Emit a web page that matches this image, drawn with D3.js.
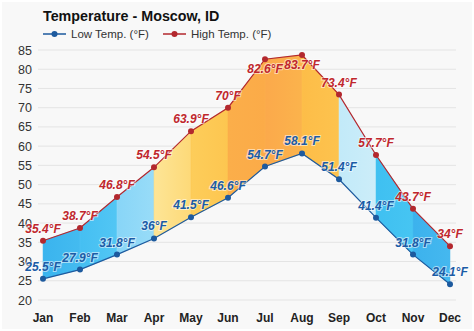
<!DOCTYPE html>
<html><head><meta charset="utf-8">
<script src="https://cdn.jsdelivr.net/npm/d3@7"></script>
<style>html,body{margin:0;padding:0;background:#fff;}svg{display:block;}</style>
</head><body>
<script>
const months = ["Jan","Feb","Mar","Apr","May","Jun","Jul","Aug","Sep","Oct","Nov","Dec"];
const lowTemps = [25.5, 27.9, 31.8, 36, 41.5, 46.6, 54.7, 58.1, 51.4, 41.4, 31.8, 24.1];
const highTemps = [35.4, 38.7, 46.8, 54.5, 63.9, 70, 82.6, 83.7, 73.4, 57.7, 43.7, 34];
const yTicks = [20,25,30,35,40,45,50,55,60,65,70,75,80,85];
const segLeft  = ["#3ab4ee","#45bff2","#88d5f7","#fde596","#fdcd5a","#fbae4a","#fba94b","#fdbd48","#c2eaf9","#3fc0f1","#3cb2ed"];
const segRight = ["#44bbf0","#52c6f4","#98dcf8","#fdd978","#fdc650","#fbab48","#fbb34c","#fdc34e","#ccedf9","#46c5f2","#45b8ef"];
const highLabelBelow = ["Jul","Aug"];

const W = 474, H = 331;
const svg = d3.select("body").append("svg").attr("width", W).attr("height", H);
svg.append("rect").attr("x",2).attr("y",2).attr("width",W-4).attr("height",H-4).attr("fill","#f8f8f8");

const x = d3.scalePoint().domain(months).range([43, 450]);
const y = d3.scaleLinear().domain([20, 85]).range([300, 50]);
const FONT = "Liberation Sans, Arial, sans-serif";

// grid
svg.append("g").selectAll("line").data(yTicks).join("line")
  .attr("x1", 38).attr("x2", 456)
  .attr("y1", d => y(d)).attr("y2", d => y(d))
  .attr("stroke", "#e4e4e4").attr("stroke-width", 1);

// y labels
svg.append("g").selectAll("text").data(yTicks).join("text")
  .attr("x", 32).attr("y", d => y(d) + 4.5)
  .attr("text-anchor", "end")
  .attr("font-family", FONT)
  .attr("font-size", 12.5).attr("fill", "#333")
  .text(d => d);

// x labels
svg.append("g").selectAll("text").data(months).join("text")
  .attr("x", d => x(d)).attr("y", 322)
  .attr("text-anchor", "middle")
  .attr("font-family", FONT)
  .attr("font-weight", "bold")
  .attr("font-size", 12).attr("fill", "#222")
  .text(d => d);

// gradients
const defs = svg.append("defs");
segLeft.forEach((c, i) => {
  const g = defs.append("linearGradient").attr("id", "g" + i)
    .attr("x1", "0%").attr("x2", "100%").attr("y1", "0%").attr("y2", "0%");
  g.append("stop").attr("offset", "0%").attr("stop-color", c);
  g.append("stop").attr("offset", "100%").attr("stop-color", segRight[i]);
});

const pts = months.map((m, i) => ({m, lo: lowTemps[i], hi: highTemps[i]}));
const area = d3.area().x(d => x(d.m)).y0(d => y(d.lo)).y1(d => y(d.hi));
for (let i = 0; i < months.length - 1; i++) {
  svg.append("path").datum([pts[i], pts[i+1]])
    .attr("d", area)
    .attr("fill", `url(#g${i})`)
    .attr("stroke", segRight[i]).attr("stroke-width", 0.5);
}

// lines
const lineLo = d3.line().x(d => x(d.m)).y(d => y(d.lo));
const lineHi = d3.line().x(d => x(d.m)).y(d => y(d.hi));
svg.append("path").datum(pts).attr("d", lineLo).attr("fill", "none")
  .attr("stroke", "#1d5a9e").attr("stroke-width", 1.2);
svg.append("path").datum(pts).attr("d", lineHi).attr("fill", "none")
  .attr("stroke", "#b3282e").attr("stroke-width", 1.2);

svg.append("g").selectAll("circle").data(pts).join("circle")
  .attr("cx", d => x(d.m)).attr("cy", d => y(d.lo)).attr("r", 3)
  .attr("fill", "#1d5a9e");
svg.append("g").selectAll("circle").data(pts).join("circle")
  .attr("cx", d => x(d.m)).attr("cy", d => y(d.hi)).attr("r", 3)
  .attr("fill", "#b3282e");

// data labels
function labels(key, color, below) {
  svg.append("g").selectAll("text").data(pts).join("text")
    .attr("x", d => x(d.m))
    .attr("y", d => below.includes(d.m) ? y(d[key]) + 14 : y(d[key]) - 8)
    .attr("text-anchor", "middle")
    .attr("font-family", FONT)
    .attr("font-weight", "bold").attr("font-style", "italic")
    .attr("font-size", 12).attr("fill", color)
    .attr("stroke", "rgba(255,255,255,0.55)").attr("stroke-width", 2)
    .attr("paint-order", "stroke")
    .text(d => d[key] + "°F");
}
labels("hi", "#c0272d", highLabelBelow);
labels("lo", "#1c5ca6", []);

// title
svg.append("text").attr("x", 43).attr("y", 21)
  .attr("font-family", FONT)
  .attr("font-weight", "bold").attr("font-size", 14.3).attr("fill", "#111")
  .text("Temperature - Moscow, ID");

// legend
const legend = [{label: "Low Temp. (°F)", color: "#1d5a9e", x: 43}, {label: "High Temp. (°F)", color: "#b3282e", x: 163}];
legend.forEach(l => {
  svg.append("line").attr("x1", l.x).attr("x2", l.x + 23).attr("y1", 34).attr("y2", 34)
    .attr("stroke", l.color).attr("stroke-width", 1.5);
  svg.append("circle").attr("cx", l.x + 11.5).attr("cy", 34).attr("r", 3).attr("fill", l.color);
  svg.append("text").attr("x", l.x + 28).attr("y", 38)
    .attr("font-family", FONT)
    .attr("font-size", 11.5).attr("fill", "#333").text(l.label);
});
</script>
</body></html>
